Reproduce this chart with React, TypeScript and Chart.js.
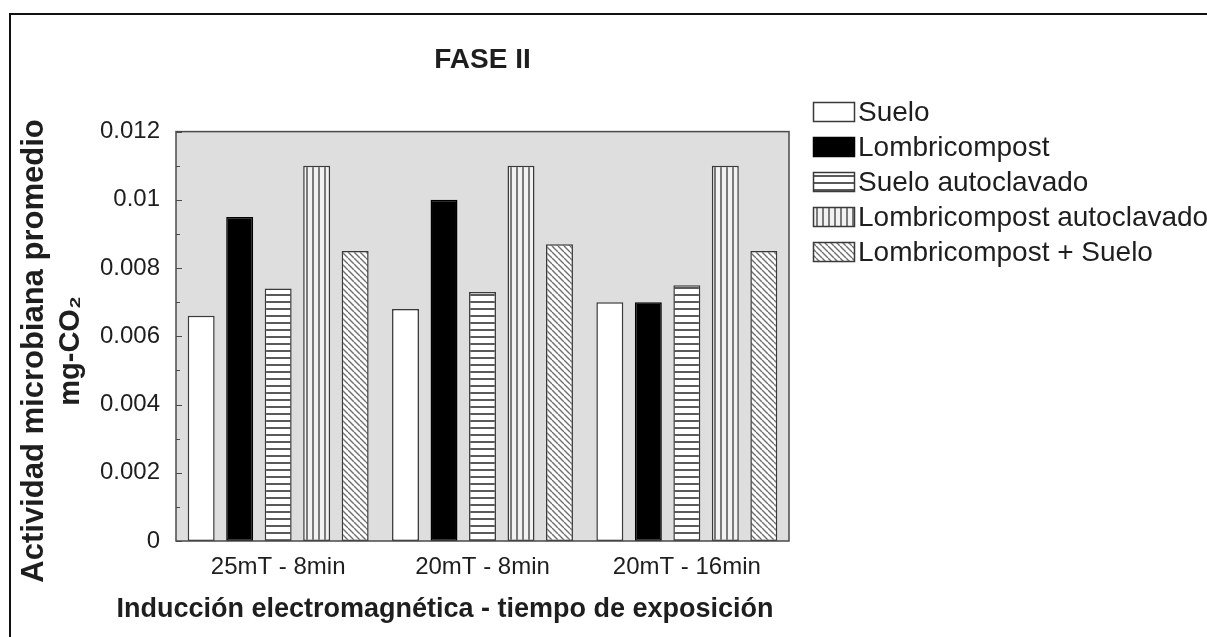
import React, { useEffect, useRef } from 'react';
import { Chart, registerables } from 'chart.js';

Chart.register(...registerables);

const categories = ['25mT - 8min', '20mT - 8min', '20mT - 16min'];
const seriesNames = ['Suelo', 'Lombricompost', 'Suelo autoclavado', 'Lombricompost autoclavado', 'Lombricompost + Suelo'];
const suelo = [0.0066, 0.0068, 0.007];
const lombricompost = [0.0095, 0.01, 0.007];
const sueloAutoclavado = [0.0074, 0.0073, 0.0075];
const lombricompostAutoclavado = [0.011, 0.011, 0.011];
const lombricompostSuelo = [0.0085, 0.0087, 0.0085];
const yTickLabels = ['0', '0.002', '0.004', '0.006', '0.008', '0.01', '0.012'];
const chartTitle = 'FASE II';
const yTitle = ['Actividad microbiana promedio', 'mg-CO\u2082'];
const xTitle = 'Inducción electromagnética - tiempo de exposición';

const FONT = '"Liberation Sans", Arial, Helvetica, sans-serif';

function makePattern(kind: string, bg: string, fg: string, size: number): any {
  const c = document.createElement('canvas');
  c.width = size;
  c.height = size;
  const g = c.getContext('2d')!;
  g.fillStyle = bg;
  g.fillRect(0, 0, size, size);
  g.fillStyle = fg;
  g.strokeStyle = fg;
  if (kind === 'h') {
    g.fillRect(0, 0, size, 2);
  } else if (kind === 'v') {
    g.fillRect(0, 0, 2, size);
  } else {
    g.lineWidth = 1.4;
    for (const o of [-size, 0, size]) {
      g.beginPath();
      g.moveTo(o, 0);
      g.lineTo(o + size, size);
      g.stroke();
    }
  }
  return g.createPattern(c, 'repeat');
}

const decorPlugin = {
  id: 'decor',
  beforeDatasetsDraw(chart: any) {
    const { ctx, chartArea } = chart;
    ctx.save();
    ctx.fillStyle = '#dedede';
    ctx.fillRect(chartArea.left, chartArea.top, chartArea.right - chartArea.left, chartArea.bottom - chartArea.top);
    ctx.restore();
  },
  afterDatasetsDraw(chart: any) {
    const { ctx, chartArea } = chart;
    const yScale = chart.scales.y;
    ctx.save();
    ctx.strokeStyle = '#4a4a4a';
    ctx.lineWidth = 1.5;
    ctx.strokeRect(chartArea.left, chartArea.top, chartArea.right - chartArea.left, chartArea.bottom - chartArea.top);
    ctx.lineWidth = 1;
    for (let i = 0; i <= 12; i++) {
      const y = Math.round(yScale.getPixelForValue(i * 0.001)) + 0.5;
      const len = i % 2 === 0 ? 6 : 4;
      ctx.beginPath();
      ctx.moveTo(chartArea.left, y);
      ctx.lineTo(chartArea.left + len, y);
      ctx.stroke();
    }
    ctx.restore();
  },
  afterDraw(chart: any) {
    const { ctx } = chart;
    ctx.save();
    // legend
    ctx.textAlign = 'left';
    ctx.textBaseline = 'middle';
    ctx.font = '28px ' + FONT;
    chart.data.datasets.forEach((ds: any, i: number) => {
      const y = 112 + i * 35;
      ctx.fillStyle = ds.backgroundColor;
      ctx.fillRect(813, y - 10, 42, 20);
      ctx.strokeStyle = ds.borderColor;
      ctx.lineWidth = 1.5;
      ctx.strokeRect(813.5, y - 9.5, 41, 19);
      ctx.fillStyle = '#1e1e1e';
      ctx.fillText(ds.label, 858, y + 1);
    });
    // x axis title
    ctx.textAlign = 'center';
    ctx.font = 'bold 27px ' + FONT;
    ctx.fillStyle = '#1e1e1e';
    ctx.fillText(xTitle, 445, 610);
    // y axis title (two lines, rotated)
    ctx.save();
    ctx.translate(34, 351);
    ctx.rotate(-Math.PI / 2);
    ctx.font = 'bold 31px ' + FONT;
    ctx.fillText(yTitle[0], 0, 0);
    ctx.font = 'bold 29px ' + FONT;
    ctx.fillText(yTitle[1], 0, 37);
    ctx.restore();
    ctx.restore();
  },
};

export default function App() {
  const ref = useRef<HTMLCanvasElement>(null);
  useEffect(() => {
    const canvas = ref.current!;
    const border = '#3a3a3a';
    const fills = [
      '#ffffff',
      '#000000',
      makePattern('h', '#ffffff', '#5a5a5a', 7),
      makePattern('v', '#f2f2f2', '#7a7a7a', 6),
      makePattern('d', '#ffffff', '#707070', 6),
    ];
    const values = [suelo, lombricompost, sueloAutoclavado, lombricompostAutoclavado, lombricompostSuelo];
    const chart = new Chart(canvas, {
      type: 'bar',
      data: {
        labels: categories,
        datasets: seriesNames.map((name, i) => ({
          label: name,
          data: values[i],
          backgroundColor: fills[i],
          borderColor: i === 1 ? '#000000' : border,
          borderWidth: 1.5,
          borderSkipped: false,
          categoryPercentage: 0.942,
          barPercentage: 0.7,
        })),
      },
      options: {
        responsive: false,
        animation: false,
        layout: { padding: { top: 14, left: 10, right: 418, bottom: 0 } },
        plugins: {
          legend: { display: false },
          tooltip: { enabled: false },
          title: {
            display: true,
            text: chartTitle,
            fullSize: false,
            color: '#1e1e1e',
            font: { family: FONT, size: 28, weight: 'bold', lineHeight: 1.2 },
            padding: { top: 29, bottom: 55 },
          },
        },
        scales: {
          x: {
            grid: { display: false, drawTicks: false },
            border: { display: false },
            ticks: {
              color: '#1e1e1e',
              font: { family: FONT, size: 24 },
              padding: 12,
              maxRotation: 0,
              minRotation: 0,
            },
            afterFit: (s: any) => {
              s.height = 96;
            },
          },
          y: {
            min: 0,
            max: 0.012,
            grid: { display: false, drawTicks: false },
            border: { display: false },
            ticks: {
              stepSize: 0.002,
              color: '#1e1e1e',
              font: { family: FONT, size: 24 },
              padding: 16,
              callback: (_v: any, idx: number) => yTickLabels[idx],
            },
            afterFit: (s: any) => {
              s.width = 166;
            },
          },
        },
      },
      plugins: [decorPlugin],
    } as any);
    return () => chart.destroy();
  }, []);
  return (
    <div style={{ position: 'absolute', left: 0, top: 0, width: 1207, height: 637, background: '#fff', overflow: 'hidden' }}>
      <canvas ref={ref} width={1207} height={637} style={{ display: 'block' }} />
      <div
        style={{
          position: 'absolute',
          left: 9,
          top: 13,
          width: 1207,
          height: 637,
          borderTop: '2px solid #111',
          borderLeft: '2px solid #111',
          pointerEvents: 'none',
        }}
      />
    </div>
  );
}
